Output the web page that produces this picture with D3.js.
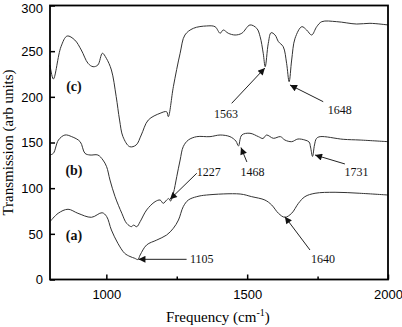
<!DOCTYPE html>
<html>
<head>
<meta charset="utf-8">
<script src="https://cdn.jsdelivr.net/npm/d3@7"></script>
<style>
  body { margin: 0; background: #fff; }
  svg { display: block; }
</style>
</head>
<body>
<div id="chart"></div>
<script>
// spectra: [frequency cm-1, transmission]
let specA = [[800,63.3],[829,72.5],[864,76.9],[899,72.5],[947,68.1],[985,73.1],[1001,69],
  [1018,54.2],[1041,39.6],[1065,28.7],[1084,25.2],[1101,23.2],[1112,21.9],[1120,26.8],[1143,37.8],
  [1179,43.2],[1214,48.7],[1238,56.1],[1256,65.1],[1273,79.7],[1291,87],[1321,90.7],[1356,92.5],
  [1475,93.6],[1516,90.7],[1563,87],[1587,81.6],[1611,72.5],[1634,68.1],[1658,72.5],[1682,83.4],
  [1705,90.7],[1741,94.4],[1812,95.5],[1900,94.4],[2000,92.5]]

let specB = [[800,136.3],[812,138.2],[830,152.7],[853,158.2],[877,156.4],[907,150.9],[924,138.2],[942,136.3],
  [970,136.3],[988,130.8],[1001,123.5],[1013,108.9],[1031,90.7],[1055,72.5],[1072,61.5],[1090,57.8],
  [1096,59.7],[1108,57.8],[1120,63.3],[1143,76.1],[1173,85.2],[1191,87],[1202,83.4],[1214,87],
  [1222,88.6],[1228,85.9],[1238,94.4],[1250,112.6],[1262,130.8],[1273,145.4],[1291,152.7],[1321,156.4],
  [1368,156.4],[1404,158.2],[1439,156.4],[1460,151.6],[1469,146.2],[1481,158.2],[1510,160.1],[1540,156.4],
  [1556,154.4],[1569,158.2],[1593,154.6],[1618,156.4],[1634,152.7],[1658,150.9],[1680,153.8],[1705,152.7],
  [1720,150.5],[1725,145],[1732,134.7],[1739,147.3],[1746,154.4],[1759,156.4],[1841,153.5],[1901,152.7],
  [2000,150.9]]

let specC = [[800,234.8],[812,219.5],[839,254.9],[861,266.6],[888,262.2],[911,251.3],[935,236.7],[953,233],
  [970,234.9],[986,247.7],[1000,242.2],[1018,229.4],[1035,200.2],[1047,174.6],[1059,156.4],[1083,145.4],
  [1106,147.3],[1124,158.2],[1149,174.6],[1191,182],[1214,183.7],[1220,178.3],[1238,211.1],[1262,247.7],
  [1279,267.7],[1309,275],[1356,277.6],[1386,276.8],[1404,269.6],[1415,273.2],[1433,269.6],[1457,267.7],
  [1481,269.6],[1510,278.7],[1534,275],[1546,265.9],[1557,247.7],[1564,233],[1575,258.6],[1585,270.2],
  [1599,267.7],[1611,260.4],[1628,254.9],[1640,236.7],[1649,216.6],[1658,240.3],[1670,264.1],[1694,276.8],
  [1711,273.2],[1729,267.7],[1747,276.8],[1765,282.3],[1818,282.3],[1889,279.7],[1936,280.5],[2000,278.7]]

let curveNames = ["(a)", "(b)", "(c)"]
let curveLabelPos = [[885,43.2],[885,114.4],[885,206.4]]

// peak annotations: text, label point, arrow tail, arrow tip (data units)
let peakText = ["1105", "1227", "1468", "1563", "1640", "1648", "1731"]
let peakLabel = [[1297,18.1],[1364,113.3],[1519,113.3],[1425,176.8],[1769,18.6],[1829,181.2],[1888,113.3]]
let peakTail = [[1285,22.1],[1321,116.3],[1499,128.7],[1445,192.9],[1723,32.3],[1770,194.7],[1847,126.5]]
let peakTip = [[1114,22.1],[1226,87.8],[1478,144.5],[1563,231.6],[1634,68.8],[1652,213],[1741,136.3]]
let peakAnchor = ["start","middle","middle","middle","middle","middle","middle"]

let xTicks = [1000, 1500, 2000]
let xMinor = [1250, 1750]
let yTicks = [0, 50, 100, 150, 200, 250, 300]

function init(){
  let W = 402, H = 327
  let margin = {top: 5.5, right: 14, bottom: 47.5, left: 50}
  let width = W - margin.left - margin.right,
      height = H - margin.top - margin.bottom

  let svg = d3.select("#chart").append("svg")
      .attr("width", W).attr("height", H)

  let g = svg.append("g")
      .attr("transform", "translate(" + margin.left + "," + margin.top + ")")

  let x = d3.scaleLinear().domain([800, 2000]).range([0, width])
  let y = d3.scaleLinear().domain([0, 300]).range([height, 0])

  let ink = "#333"

  // arrowhead
  svg.append("defs").append("marker")
      .attr("id", "arrow")
      .attr("viewBox", "0 0 10 10")
      .attr("refX", 10).attr("refY", 5)
      .attr("markerWidth", 9).attr("markerHeight", 7)
      .attr("markerUnits", "userSpaceOnUse")
      .attr("orient", "auto")
    .append("path")
      .attr("d", "M0,0 L10,5 L0,10 Z")
      .attr("fill", "#111")

  // spectra
  let line = d3.line()
      .x(d => x(d[0]))
      .y(d => y(d[1]))
      .curve(d3.curveCatmullRom.alpha(0.5))

  g.selectAll(".spec")
    .data([specA, specB, specC])
    .enter().append("path")
      .attr("d", line)
      .attr("fill", "none")
      .attr("stroke", ink)
      .attr("stroke-width", 1)

  // curve names
  g.selectAll(".cname")
    .data(curveNames)
    .enter().append("text")
      .attr("x", (d, i) => x(curveLabelPos[i][0]))
      .attr("y", (d, i) => y(curveLabelPos[i][1]))
      .attr("text-anchor", "middle")
      .style("font-family", "'Liberation Serif', 'DejaVu Serif', serif")
      .style("font-weight", "bold")
      .style("font-size", "14px")
      .style("fill", "#111")
      .text(d => d)

  // peak arrows and labels
  g.selectAll(".parrow")
    .data(peakText)
    .enter().append("line")
      .attr("x1", (d, i) => x(peakTail[i][0]))
      .attr("y1", (d, i) => y(peakTail[i][1]))
      .attr("x2", (d, i) => x(peakTip[i][0]))
      .attr("y2", (d, i) => y(peakTip[i][1]))
      .attr("stroke", "#222")
      .attr("stroke-width", 1)
      .attr("marker-end", "url(#arrow)")

  g.selectAll(".plabel")
    .data(peakText)
    .enter().append("text")
      .attr("x", (d, i) => x(peakLabel[i][0]))
      .attr("y", (d, i) => y(peakLabel[i][1]))
      .attr("text-anchor", (d, i) => peakAnchor[i])
      .style("font-family", "'Liberation Serif', 'DejaVu Serif', serif")
      .style("font-size", "12px")
      .style("fill", "#111")
      .text(d => d)

  // frame
  g.append("rect")
      .attr("width", width).attr("height", height)
      .attr("fill", "none")
      .attr("stroke", "#000")
      .attr("stroke-width", 1.8)

  // axes, ticks pointing inward
  g.append("g")
      .attr("transform", "translate(0," + height + ")")
      .call(d3.axisBottom(x).tickValues(xTicks).tickSize(-5).tickPadding(10).tickFormat(d3.format("d")))
  g.append("g")
      .attr("transform", "translate(0," + height + ")")
      .call(d3.axisBottom(x).tickValues(xMinor).tickSize(-3).tickFormat(""))
  let yAxis = g.append("g")
      .call(d3.axisLeft(y).tickValues(yTicks).tickSize(-5).tickPadding(7))

  // keep the top label inside the page
  yAxis.selectAll(".tick text").filter(d => d === 300).attr("dy", "0.5em")

  g.selectAll(".domain").remove()
  g.selectAll(".tick line").attr("stroke", "#000").attr("stroke-width", 1.5)
  g.selectAll(".tick text")
      .style("font-family", "'Liberation Sans', Arial, sans-serif")
      .style("font-size", "13px")
      .style("fill", "#000")

  // axis titles
  let xt = svg.append("text")
      .attr("x", margin.left + x(1396))
      .attr("y", 322)
      .attr("text-anchor", "middle")
      .style("font-family", "'Liberation Serif', 'DejaVu Serif', serif")
      .style("font-size", "15px")
      .style("fill", "#000")
  xt.append("tspan").text("Frequency (cm")
  xt.append("tspan").attr("dy", -6).style("font-size", "10px").text("-1")
  xt.append("tspan").attr("dy", 6).text(")")

  svg.append("text")
      .attr("transform", "translate(13," + (margin.top + height / 2) + ") rotate(-90)")
      .attr("text-anchor", "middle")
      .style("font-family", "'Liberation Serif', 'DejaVu Serif', serif")
      .style("font-size", "15px")
      .style("fill", "#000")
      .text("Transmission (arb units)")
}

init()
</script>
</body>
</html>
